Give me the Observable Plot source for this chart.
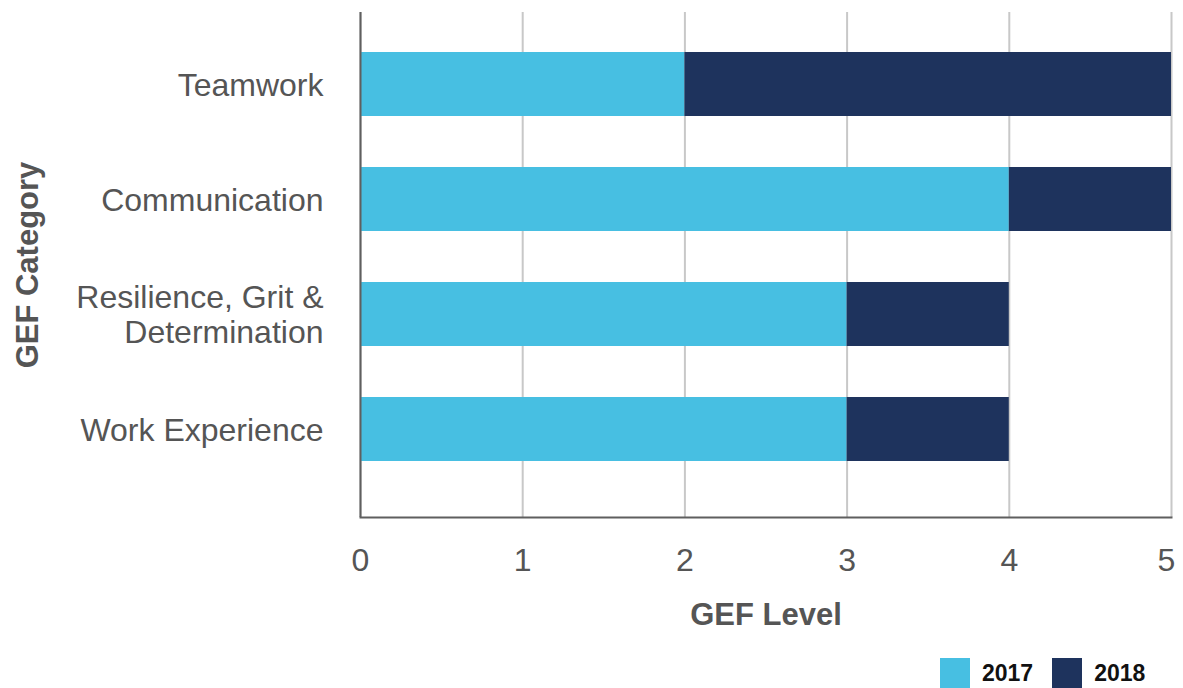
<!DOCTYPE html>
<html>
<head>
<meta charset="utf-8">
<script src="https://cdn.jsdelivr.net/npm/d3@7"></script>
<script src="https://cdn.jsdelivr.net/npm/@observablehq/plot@0.6"></script>
<style>
  html, body { margin: 0; padding: 0; background: #fff; overflow: hidden; }
  body { font-family: "Liberation Sans", Arial, Helvetica, sans-serif; width: 1183px; height: 688px; }
  #legend { display: flex; align-items: center; height: 38px; padding-left: 940px; padding-top: 8px; box-sizing: border-box; }
  .sw { width: 30px; height: 30px; margin-right: 12px; }
  .lab { font-weight: bold; font-size: 23px; color: #111; margin-right: 19px; }
</style>
</head>
<body>
<div id="chart"></div>
<div id="legend"></div>
<script>
const categories = ["Teamwork", "Communication", "Resilience, Grit &\nDetermination", "Work Experience"];
const years = ["2017", "2018"];
const values2017 = [2, 4, 3, 3];
const values2018 = [3, 1, 1, 1];
const colors = ["#47BFE2", "#1E335D"];
const xTicks = [0, 1, 2, 3, 4, 5];

const data = [];
categories.forEach((c, i) => {
  data.push({category: c, year: years[0], value: values2017[i]});
  data.push({category: c, year: years[1], value: values2018[i]});
});

const font = "'Liberation Sans', Arial, Helvetica, sans-serif";
const tickStyle = {label: null, tickSize: 0, tickPadding: 31, fontSize: 32, color: "#555", tickFormat: d => String(d)};

const chart = Plot.plot({
  width: 1183,
  height: 650,
  marginLeft: 360,
  marginRight: 12,
  marginTop: 12,
  marginBottom: 133,
  style: {fontFamily: font, background: "#fff"},
  x: {domain: [0, 5], axis: null},
  y: {domain: categories, paddingInner: 0.44, paddingOuter: 0.22, insetTop: 14, insetBottom: 29, axis: null},
  color: {domain: years, range: colors},
  marks: [
    Plot.ruleX(xTicks, {stroke: "#c8c8c8", strokeWidth: 2}),
    Plot.barX(data, {x: "value", y: "category", fill: "year", order: years}),
    Plot.ruleX([0], {stroke: "#5f5f5f", strokeWidth: 2}),
    Plot.frame({anchor: "bottom", stroke: "#5f5f5f", strokeWidth: 2}),
    Plot.axisX({...tickStyle, ticks: xTicks.slice(0, -1)}),
    Plot.axisX({...tickStyle, ticks: xTicks.slice(-1), dx: -5}),
    Plot.axisY({label: null, tickSize: 0, tickPadding: 37, fontSize: 32, color: "#555", lineHeight: 1.1}),
    Plot.text(["GEF Level"], {frameAnchor: "bottom", dy: 98, lineAnchor: "middle", fontSize: 31, fontWeight: "bold", fill: "#555"}),
    Plot.text(["GEF Category"], {frameAnchor: "left", dx: -332, rotate: -90, textAnchor: "middle", lineAnchor: "middle", fontSize: 31, fontWeight: "bold", fill: "#555"})
  ]
});
document.getElementById("chart").appendChild(chart);

const legend = document.getElementById("legend");
years.forEach((y, i) => {
  const sw = document.createElement("div");
  sw.className = "sw";
  sw.style.background = colors[i];
  const lab = document.createElement("span");
  lab.className = "lab";
  lab.textContent = y;
  legend.appendChild(sw);
  legend.appendChild(lab);
});
</script>
</body>
</html>
